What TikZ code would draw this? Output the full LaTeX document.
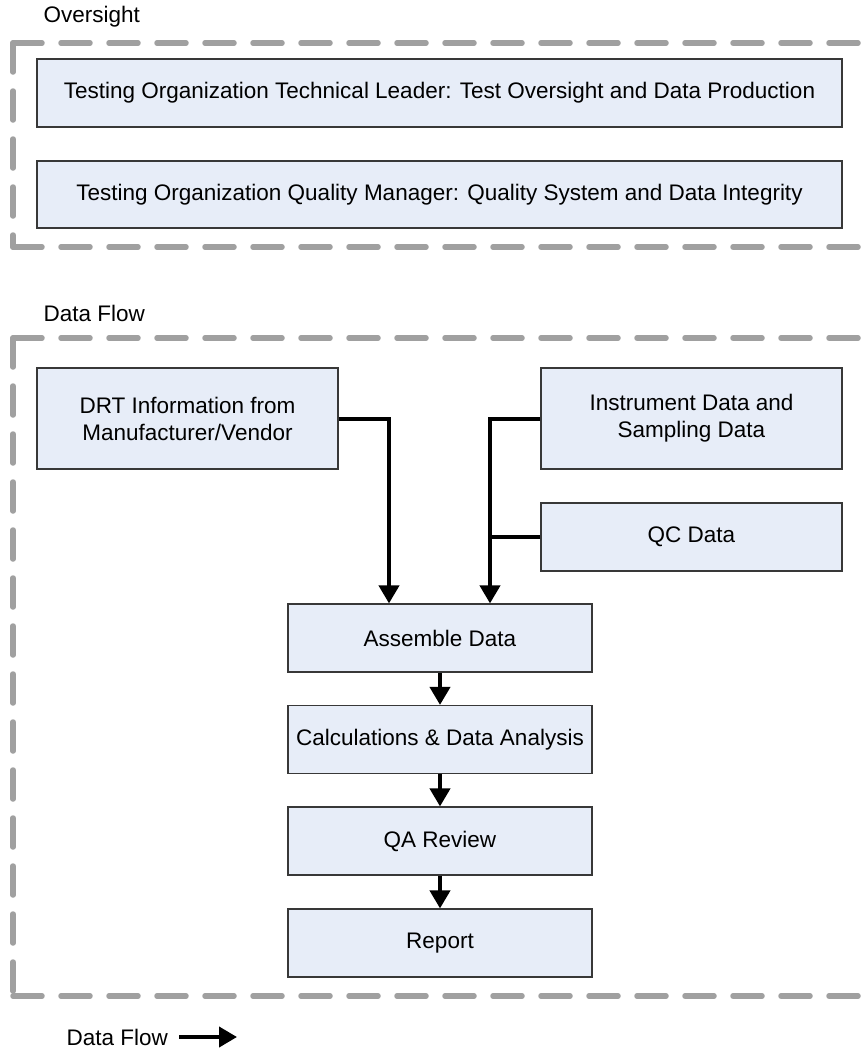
\documentclass[tikz,border=0pt]{standalone}
\usepackage{fontspec}
\setmainfont{Liberation Sans}
\usepackage{tikz}
\usetikzlibrary{arrows.meta}
\definecolor{boxfill}{HTML}{E7EDF8}
\definecolor{boxline}{HTML}{383838}
\definecolor{framegray}{HTML}{A0A0A0}
\tikzset{
  databox/.style={draw=boxline, line width=1.2pt, fill=boxfill, inner sep=0pt, align=center},
  frameline/.style={draw=framegray, line width=5.5pt, line cap=round, dash pattern=on 29pt off 19pt},
  flowline/.style={draw=black, line width=4pt},
  flowarrow/.style={flowline, -{Triangle[width=20pt,length=18pt]}}
}

\begin{document}
\begin{tikzpicture}[x=1pt, y=-1pt, font=\fontsize{22.5}{27}\selectfont]
\useasboundingbox (0,0) rectangle (863,1050);
\node[anchor=west] (oversightlabel) at (40,17) {Oversight};
\draw[frameline] (13,43) -- (880,43);
\draw[frameline] (13,43) -- (13,247);
\draw[frameline] (13,247) -- (880,247);
\node[databox, minimum width=805pt, minimum height=68pt] (leader) at (439.5,93)
  {Testing Organization Technical Leader: Test Oversight and Data Production};
\node[databox, minimum width=805pt, minimum height=67pt] (manager) at (439.5,194.5)
  {Testing Organization Quality Manager: Quality System and Data Integrity};

\node[anchor=west] (flowlabel) at (40,313) {Data Flow};
\draw[frameline] (13,338) -- (880,338);
\draw[frameline] (13,338) -- (13,996);
\draw[frameline] (13,996) -- (880,996);
\node[databox, minimum width=301pt, minimum height=101pt] (drt) at (187.5,418.5)
  {DRT Information from\\Manufacturer/Vendor};
\node[databox, minimum width=301pt, minimum height=101pt] (instrument) at (691.5,418.5)
  {Instrument Data and\\Sampling Data};
\node[databox, minimum width=301pt, minimum height=68pt] (qc) at (691.5,537) {QC Data};
\node[databox, minimum width=304pt, minimum height=68pt] (assemble) at (440,638) {Assemble Data};
\node[databox, minimum width=304pt, minimum height=68pt] (calc) at (440,739.5) {Calculations \& Data Analysis};
\node[databox, minimum width=304pt, minimum height=68pt] (review) at (440,841) {QA Review};
\node[databox, minimum width=304pt, minimum height=68pt] (report) at (440,943) {Report};

\coordinate (drtin) at ([xshift=-51pt]assemble.north);
\coordinate (measin) at ([xshift=50pt]assemble.north);
\draw[flowarrow] (drt.east) -| (drtin);
\draw[flowarrow] (instrument.west) -| (measin);
\draw[flowline] (qc.west) -- (qc.west -| measin);
\draw[flowarrow] (assemble) -- (calc);
\draw[flowarrow] (calc) -- (review);
\draw[flowarrow] (review) -- (report);

\node[anchor=west] (legend) at (63,1037) {Data Flow};
\coordinate (legendtip) at (237,1037);
\draw[flowarrow] ([xshift=8pt]legend.east) -- (legendtip);
\end{tikzpicture}
\end{document}
